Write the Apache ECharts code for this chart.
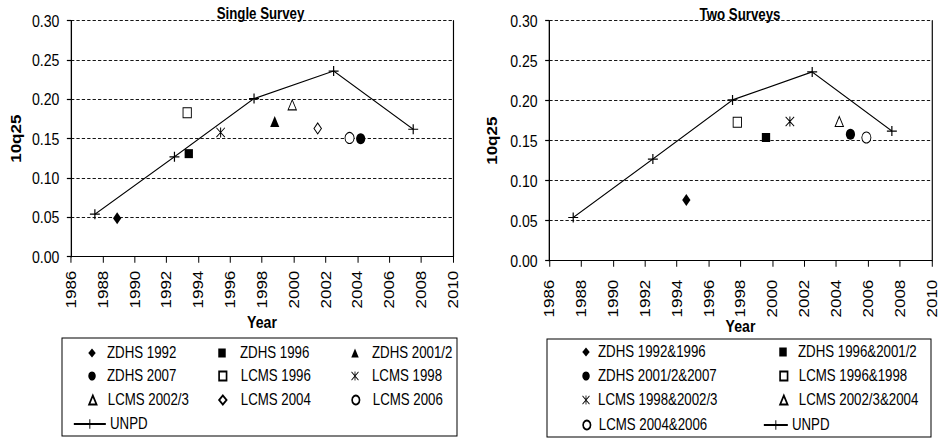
<!DOCTYPE html>
<html><head><meta charset="utf-8">
<script src="https://cdn.jsdelivr.net/npm/echarts@6/dist/echarts.min.js"></script>
<style>
html,body{margin:0;padding:0;overflow:hidden;background:#fff;width:941px;height:438px}
#main{width:1134px;height:438px;transform:scaleX(0.829806);transform-origin:0 0}
</style></head><body><div id="main"></div>
<script>
// ---- axis ranges / ticks ----
const xMin = 1986, xMax = 2010, xStep = 2;
const yMin = 0, yMax = 0.30, yStep = 0.05;

// ---- UNPD line (both panels) ----
const unpdYears  = [1987.5, 1992.5, 1997.5, 2002.5, 2007.5];
const unpdValues = [0.054, 0.127, 0.201, 0.236, 0.162];

// ---- Single Survey panel ----
const singleNames  = ['ZDHS 1992', 'ZDHS 1996', 'ZDHS 2001/2', 'ZDHS 2007', 'LCMS 1996', 'LCMS 1998', 'LCMS 2002/3', 'LCMS 2004', 'LCMS 2006'];
const singleYears  = [1988.9, 1993.4, 1998.8, 2004.2, 1993.3, 1995.4, 1999.9, 2001.5, 2003.5];
const singleValues = [0.049, 0.131, 0.172, 0.150, 0.183, 0.158, 0.193, 0.163, 0.151];

// ---- Two Surveys panel ----
const twoNames  = ['ZDHS 1992&1996', 'ZDHS 1996&2001/2', 'ZDHS 2001/2&2007', 'LCMS 1996&1998', 'LCMS 1998&2002/3', 'LCMS 2002/3&2004', 'LCMS 2004&2006'];
const twoYears  = [1994.6, 1999.6, 2004.9, 1997.8, 2001.1, 2004.2, 2005.9];
const twoValues = [0.076, 0.154, 0.158, 0.173, 0.174, 0.174, 0.154];

// ---- styles ----
const FONT = "'Liberation Sans', Arial, sans-serif";
const SX = 941 / 1134;           // horizontal compression applied by CSS
const vx = x => x / SX;          // real px -> layout px

const PLUS = 'path://M4.4,0H5.6V4.4H10V5.6H5.6V10H4.4V5.6H0V4.4H4.4Z';
const STAR = 'path://M0,0.7L0.7,0L10,9.3L9.3,10Z M10,0.7L0.7,10L0,9.3L9.3,0Z M4.45,0H5.55V10H4.45Z';

const markers = {
  fDiamond:  {symbol: 'diamond',  size: [10, 12], fill: '#000'},
  fSquare:   {symbol: 'rect',     size: [10, 9],  fill: '#000'},
  fTriangle: {symbol: 'triangle', size: [11, 11], fill: '#000'},
  fCircle:   {symbol: 'circle',   size: [11, 11], fill: '#000'},
  oSquare:   {symbol: 'rect',     size: [10, 10], fill: '#fff'},
  star:      {symbol: STAR,       size: [11, 10], fill: '#000'},
  oTriangle: {symbol: 'triangle', size: [10, 10], fill: '#fff'},
  oDiamond:  {symbol: 'diamond',  size: [9, 11],  fill: '#fff'},
  oCircle:   {symbol: 'circle',   size: [11, 11], fill: '#fff'}
};
const singleKinds = ['fDiamond', 'fSquare', 'fTriangle', 'fCircle', 'oSquare', 'star', 'oTriangle', 'oDiamond', 'oCircle'];
const twoKinds    = ['fDiamond', 'fSquare', 'fCircle', 'oSquare', 'star', 'oTriangle', 'oCircle'];

function scatterSeries(names, years, values, kinds, gi) {
  return names.map((n, i) => {
    const m = markers[kinds[i]];
    return {
      type: 'scatter', name: n, xAxisIndex: gi, yAxisIndex: gi * 2,
      data: [[years[i], values[i]]],
      symbol: m.symbol, symbolSize: m.size,
      itemStyle: {color: m.fill, borderColor: '#000', borderWidth: m.fill === '#fff' ? 1.1 : 0, opacity: 1},
      z: 4, silent: true, animation: false
    };
  });
}
function unpdSeries(gi) {
  return {
    type: 'line', name: 'UNPD', xAxisIndex: gi, yAxisIndex: gi * 2,
    data: unpdYears.map((y, i) => [y, unpdValues[i]]),
    symbol: PLUS, symbolSize: [12, 10], showSymbol: true,
    lineStyle: {color: '#000', width: 1.2},
    itemStyle: {color: '#000'},
    z: 3, silent: true, animation: false
  };
}

const grids = [
  {left: vx(71), right: 1134 - vx(453), top: 20.7, bottom: 438 - 256.7, outerBoundsMode: 'none'},
  {left: vx(549.3), right: 1134 - vx(931.7), top: 20.7, bottom: 438 - 260.7, outerBoundsMode: 'none'}
];

const xAxes = [0, 1].map(gi => ({
  type: 'value', gridIndex: gi, min: xMin, max: xMax, interval: xStep,
  name: 'Year', nameLocation: 'middle', nameGap: 57, nameMoveOverlap: false,
  nameTextStyle: {fontFamily: FONT, fontSize: 17, fontWeight: 'bold', color: '#000'},
  axisLine: {show: true, lineStyle: {color: '#000', width: 1.2}},
  axisTick: {show: true, length: 6, lineStyle: {color: '#000', width: 1.2}},
  axisLabel: {rotate: 90, fontSize: 17, fontFamily: FONT, color: '#000', margin: gi ? 19 : 14, formatter: v => String(v)},
  splitLine: {show: false}
}));

const yAxes = [];
[0, 1].forEach(gi => {
  yAxes.push({
    type: 'value', gridIndex: gi, min: yMin, max: yMax, interval: yStep,
    name: '10q25', nameLocation: 'middle', nameGap: gi ? 61 : 58, nameRotate: 90, nameMoveOverlap: false,
    nameTextStyle: {fontFamily: FONT, fontSize: 17, fontWeight: 'bold', color: '#000'},
    axisLine: {show: true, lineStyle: {color: '#000', width: 1.6}},
    axisTick: {show: true, length: 5, lineStyle: {color: '#000', width: 1.2}},
    axisLabel: {fontSize: 17, fontFamily: FONT, color: '#000', margin: 14, formatter: v => v.toFixed(2)},
    splitLine: {show: true, lineStyle: {color: '#000', width: 1, type: [4, 2.5]}}
  });
  yAxes.push({
    type: 'value', gridIndex: gi, position: 'right', min: yMin, max: yMax, interval: yStep,
    axisLine: {show: true, lineStyle: {color: '#000', width: 1.4}},
    axisTick: {show: false}, axisLabel: {show: false}, splitLine: {show: false}
  });
});

// ---- legend layout (real px) ----
const legends = [];
const ICON = 9;
function addLegend(name, cxReal, txReal, rowY) {
  const cx = vx(cxReal), tx = vx(txReal);
  const pad = Math.max(0, tx - cx - ICON / 2 - 5);
  legends.push({
    data: [name], left: cx - ICON / 2, top: rowY - 8, padding: 0,
    itemWidth: ICON, itemHeight: ICON, symbolKeepAspect: true, selectedMode: false,
    textStyle: {fontSize: 16, fontFamily: FONT, color: '#000', padding: [0, 0, 0, pad]}
  });
}
const leftCols = [[92, 107], [222, 240], [355, 372]];
const leftRows = [353, 376, 400, 424];
singleNames.forEach((n, i) => {
  const c = leftCols[i % 3], r = leftRows[Math.floor(i / 3)];
  addLegend(n, c[0], c[1], r);
});
legends.push({data: ['UNPD'], left: vx(73), top: leftRows[3] - 8, padding: 0, itemWidth: vx(105) - vx(73), itemHeight: 12,
  selectedMode: false, textStyle: {fontSize: 16, fontFamily: FONT, color: '#000'}});

const rightCols = [[586, 598], [783, 798]];
const rightRows = [352, 376, 400, 425];
twoNames.forEach((n, i) => {
  const c = rightCols[i % 2], r = rightRows[Math.floor(i / 2)];
  addLegend(n, c[0], c[1], r);
});
legends.push({data: ['UNPD'], left: vx(763), top: rightRows[3] - 8, padding: 0, itemWidth: vx(787) - vx(763), itemHeight: 12,
  selectedMode: false, textStyle: {fontSize: 16, fontFamily: FONT, color: '#000'}});

const option = {
  backgroundColor: '#fff',
  animation: false,
  textStyle: {fontFamily: FONT},
  title: [
    {text: 'Single Survey', left: vx(260.5), top: 6, textAlign: 'center', padding: 0,
     textStyle: {fontSize: 16, fontWeight: 'bold', color: '#000', fontFamily: FONT}},
    {text: 'Two Surveys', left: vx(740), top: 7, textAlign: 'center', padding: 0,
     textStyle: {fontSize: 16, fontWeight: 'bold', color: '#000', fontFamily: FONT}}
  ],
  grid: grids,
  xAxis: xAxes,
  yAxis: yAxes,
  legend: legends,
  graphic: [
    {type: 'rect', silent: true, shape: {x: vx(62), y: 338, width: vx(457) - vx(62), height: 98},
     style: {fill: 'none', stroke: '#000', lineWidth: 1.2}},
    {type: 'rect', silent: true, shape: {x: vx(547), y: 339, width: vx(931) - vx(547), height: 98},
     style: {fill: 'none', stroke: '#000', lineWidth: 1.2}}
  ],
  series: [
    ...scatterSeries(singleNames, singleYears, singleValues, singleKinds, 0),
    unpdSeries(0),
    ...scatterSeries(twoNames, twoYears, twoValues, twoKinds, 1),
    unpdSeries(1)
  ]
};

const chart = echarts.init(document.getElementById('main'), null, {renderer: 'svg'});
chart.setOption(option);
</script>
</body></html>
